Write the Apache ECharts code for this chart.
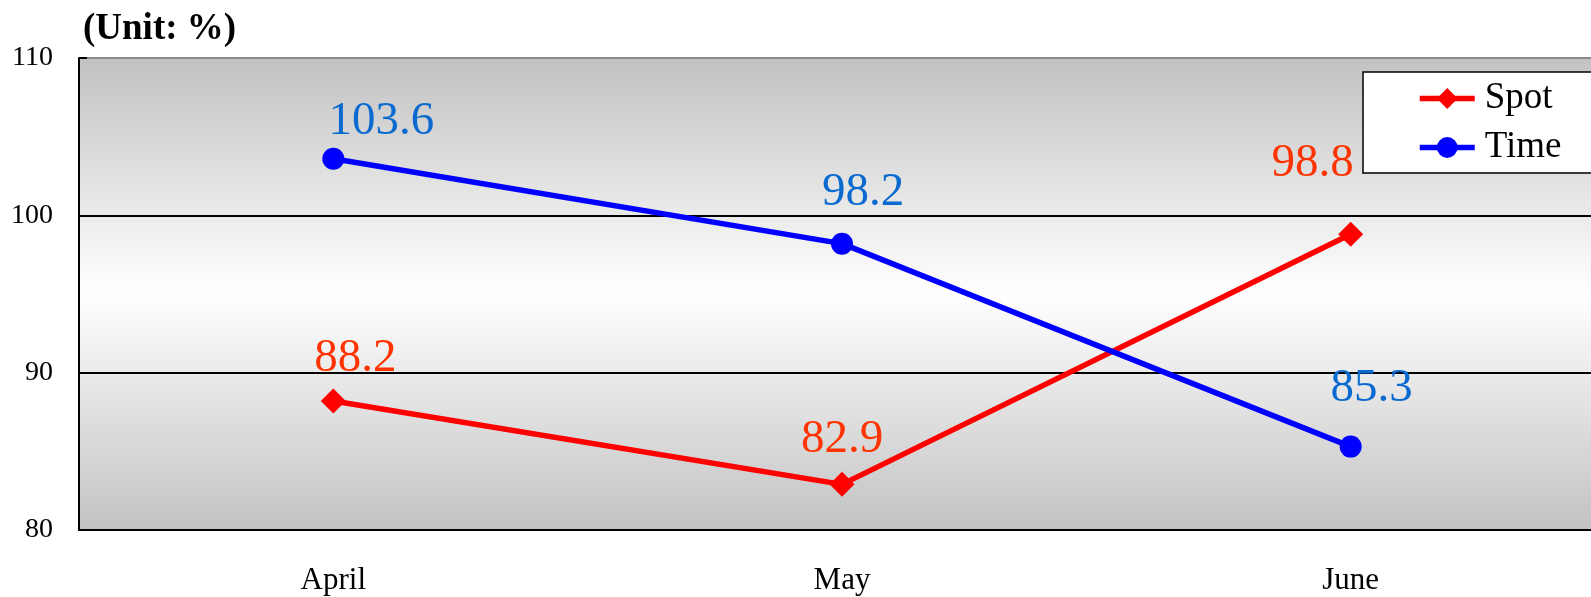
<!DOCTYPE html>
<html>
<head>
<meta charset="utf-8">
<script src="https://cdn.jsdelivr.net/npm/echarts@6/dist/echarts.min.js"></script>
<style>
html,body{margin:0;padding:0;background:#fff;overflow:hidden;width:1591px;height:597px;}
#c{width:1605px;height:597px;}
</style>
</head>
<body>
<div id="c"></div>
<script>
const categories = ['April', 'May', 'June'];
const spotValues = [88.2, 82.9, 98.8];
const timeValues = [103.6, 98.2, 85.3];
const yMin = 80, yMax = 110, yStep = 10;
const unitLabel = '(Unit: %)';

// label placement (styling, not data)
const spotLabelShift = [[22, -42], [0, -45], [-38, -71]];
const timeLabelShift = [[48, -37], [21, -51], [21, -58]];

const serif = '"Liberation Serif", "Times New Roman", serif';
const chart = echarts.init(document.getElementById('c'));

function buildData(vals, shifts) {
  return vals.map((v, i) => ({ value: v, label: { offset: shifts[i] } }));
}

chart.setOption({
  animation: false,
  title: {
    text: unitLabel,
    left: 78,
    top: 6,
    textStyle: { fontFamily: serif, fontWeight: 'bold', fontSize: 37, color: '#000' }
  },
  grid: {
    left: 79, right: 0, top: 58, bottom: 67,
    show: true,
    borderWidth: 0,
    backgroundColor: new echarts.graphic.LinearGradient(0, 0, 0, 1, [
      { offset: 0, color: '#c2c2c2' },
      { offset: 0.5, color: '#ffffff' },
      { offset: 1, color: '#c2c2c2' }
    ])
  },
  legend: {
    orient: 'vertical',
    left: 1363, top: 72,
    padding: [8, 40, 7, 54],
    backgroundColor: '#fff',
    borderColor: '#000',
    borderWidth: 1.5,
    borderRadius: 0,
    itemWidth: 55,
    itemHeight: 26,
    itemGap: 12,
    lineStyle: { width: 5.5 },
    textStyle: { fontFamily: serif, fontSize: 37, color: '#000', padding: [0, 0, 0, 5] },
    data: ['Spot', 'Time']
  },
  xAxis: {
    type: 'category',
    data: categories,
    boundaryGap: true,
    axisLine: { lineStyle: { color: '#000', width: 2 } },
    axisTick: { show: false },
    axisLabel: { fontFamily: serif, fontSize: 31, color: '#000', margin: 35 }
  },
  yAxis: {
    type: 'value',
    min: yMin, max: yMax, interval: yStep,
    axisLine: { show: true, lineStyle: { color: '#000', width: 2 } },
    axisTick: { show: true, inside: true, length: 8, lineStyle: { color: '#000', width: 2 } },
    axisLabel: { fontFamily: serif, fontSize: 28, color: '#000', margin: 26 },
    splitLine: { show: true, lineStyle: { color: ['#000', '#000', '#000', '#8a8a8a'], width: 2 } }
  },
  series: [
    {
      name: 'Spot',
      type: 'line',
      data: buildData(spotValues, spotLabelShift),
      symbol: 'diamond',
      symbolSize: 25,
      lineStyle: { color: '#ff0000', width: 5.5 },
      itemStyle: { color: '#ff0000' },
      label: {
        show: true, position: 'inside',
        fontFamily: serif, fontSize: 47, color: '#ff3300'
      }
    },
    {
      name: 'Time',
      type: 'line',
      data: buildData(timeValues, timeLabelShift),
      symbol: 'circle',
      symbolSize: 22,
      lineStyle: { color: '#0000ff', width: 5.5 },
      itemStyle: { color: '#0000ff' },
      label: {
        show: true, position: 'inside',
        fontFamily: serif, fontSize: 47, color: '#0a6ad0'
      }
    }
  ]
});
</script>
</body>
</html>
